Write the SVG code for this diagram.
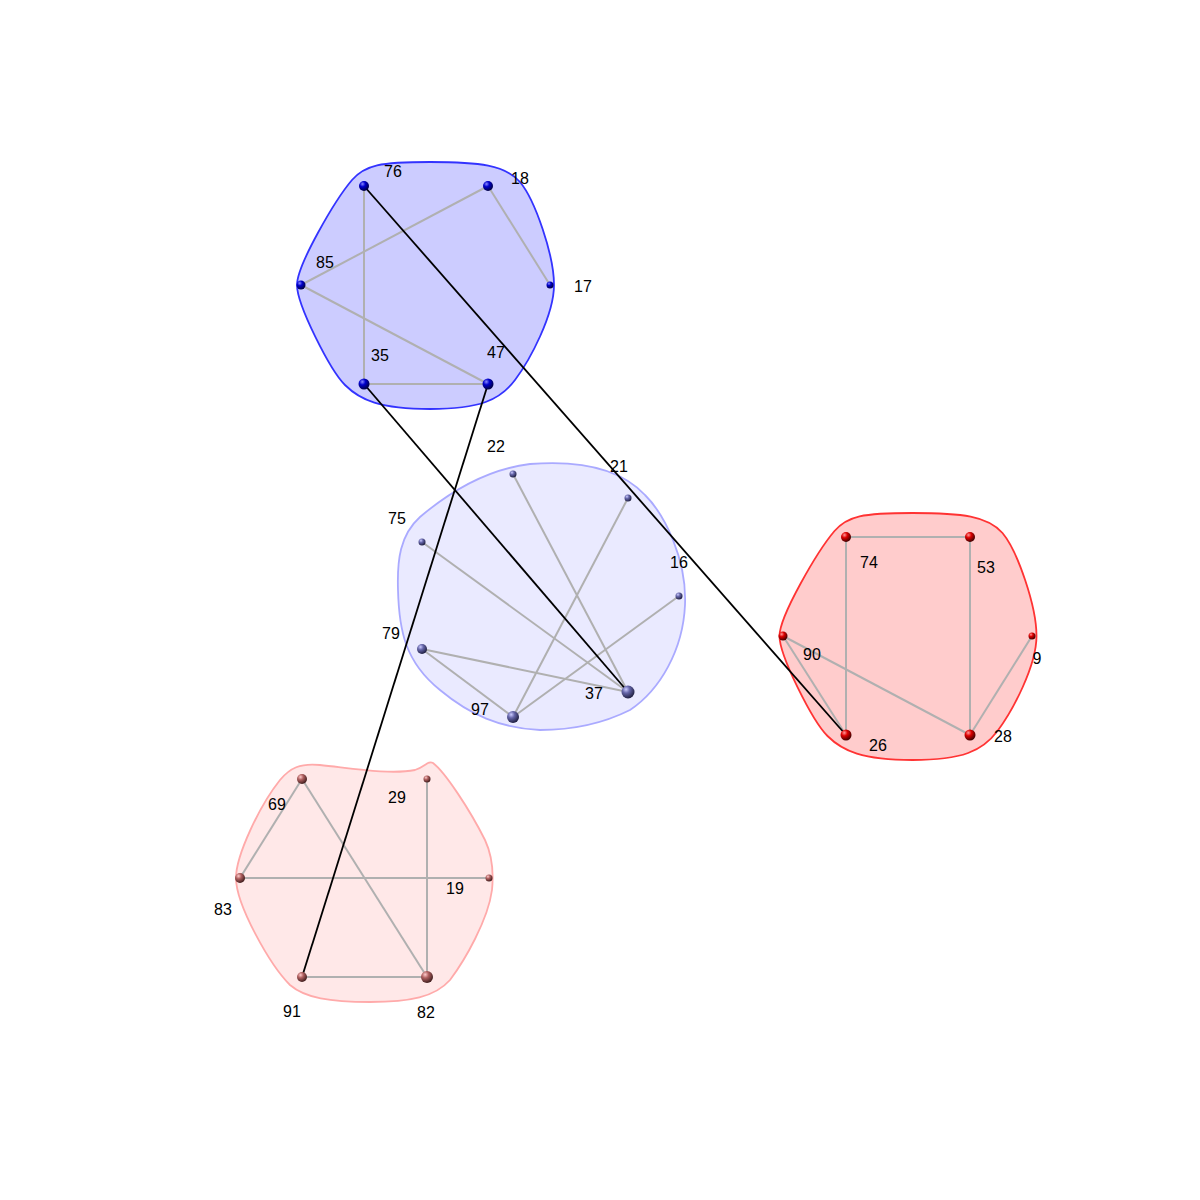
<svg xmlns="http://www.w3.org/2000/svg" width="1200" height="1200" viewBox="0 0 1200 1200">
<defs>
<radialGradient id="gB" cx="0.35" cy="0.3" r="0.7"><stop offset="0" stop-color="#8888ff"/><stop offset="0.4" stop-color="#0000cc"/><stop offset="1" stop-color="#000044"/></radialGradient>
<radialGradient id="gL" cx="0.35" cy="0.3" r="0.7"><stop offset="0" stop-color="#ccccff"/><stop offset="0.4" stop-color="#6666aa"/><stop offset="1" stop-color="#222244"/></radialGradient>
<radialGradient id="gR" cx="0.35" cy="0.3" r="0.7"><stop offset="0" stop-color="#ff9999"/><stop offset="0.4" stop-color="#dd0000"/><stop offset="1" stop-color="#440000"/></radialGradient>
<radialGradient id="gP" cx="0.35" cy="0.3" r="0.7"><stop offset="0" stop-color="#ffcccc"/><stop offset="0.4" stop-color="#b06060"/><stop offset="1" stop-color="#442020"/></radialGradient>
<path id="hex" d="M 297,285 C 297,265 335,200 352,180 C 365,165 380,162 430,162 C 480,162 505,165 520,182 C 535,200 554,255 554,285 C 554,315 530,360 515,380 C 500,400 480,409 430,409 C 380,409 360,400 345,385 C 330,370 297,305 297,285 Z"/>
</defs>
<style>
.g{stroke:#b0b0b0;stroke-width:2;fill:none}
.k{stroke:#000;stroke-width:1.8;fill:none}
text{font-family:"Liberation Sans",Arial,sans-serif;font-size:16px;fill:#000;text-anchor:middle}
.nb{fill:url(#gB)} .nl{fill:url(#gL)} .nr{fill:url(#gR)} .np{fill:url(#gP)}
</style>
<rect width="1200" height="1200" fill="#fff"/>
<g id="hulls">
<use href="#hex" fill="#ccccff" stroke="#3333ff" stroke-width="1.8"/>
<use href="#hex" transform="translate(482.5,351)" fill="#ffcccc" stroke="#ff3333" stroke-width="1.8"/>
<path d="M 398,590 C 397,560 400,535 420,517 C 440,500 480,470 530,464 C 580,460 620,468 645,495 C 665,515 687,560 685,605 C 683,650 660,690 630,710 C 600,725 570,730 540,730 C 500,728 470,715 440,690 C 405,662 399,630 398,590 Z" fill="#eaeaff" stroke="#aaaaff" stroke-width="1.8"/>
<path d="M 236,878 C 236,855 260,805 280,780 C 290,768 300,763 320,765 C 350,768 390,775 415,770 C 425,767 428,760 433,763 C 445,772 470,810 485,840 C 492,855 494,870 492,890 C 488,920 465,960 450,980 C 435,997 410,1002 370,1002 C 330,1002 305,998 290,985 C 270,965 236,905 236,878 Z" fill="#ffe8e8" stroke="#ffaaaa" stroke-width="1.8"/>
</g>
<g id="connectors">
<line class="g" x1="364" y1="186" x2="364" y2="384"/>
<line class="g" x1="301" y1="285" x2="488" y2="186"/>
<line class="g" x1="488" y1="186" x2="550" y2="285"/>
<line class="g" x1="301" y1="285" x2="488" y2="384"/>
<line class="g" x1="364" y1="384" x2="488" y2="384"/>
<line class="g" x1="513" y1="474" x2="628" y2="692"/>
<line class="g" x1="628" y1="498" x2="513" y2="717"/>
<line class="g" x1="422" y1="542" x2="628" y2="692"/>
<line class="g" x1="679" y1="596" x2="513" y2="717"/>
<line class="g" x1="422" y1="649" x2="628" y2="692"/>
<line class="g" x1="422" y1="649" x2="513" y2="717"/>
<line class="g" x1="846" y1="537" x2="970" y2="537"/>
<line class="g" x1="846" y1="537" x2="846" y2="735"/>
<line class="g" x1="970" y1="537" x2="970" y2="735"/>
<line class="g" x1="783" y1="636" x2="846" y2="735"/>
<line class="g" x1="783" y1="636" x2="970" y2="735"/>
<line class="g" x1="1032" y1="636" x2="970" y2="735"/>
<line class="g" x1="302" y1="779" x2="240" y2="878"/>
<line class="g" x1="302" y1="779" x2="427" y2="977"/>
<line class="g" x1="240" y1="878" x2="489" y2="878"/>
<line class="g" x1="427" y1="779" x2="427" y2="977"/>
<line class="g" x1="302" y1="977" x2="427" y2="977"/>
<line class="k" x1="364" y1="186" x2="846" y2="735"/>
<line class="k" x1="364" y1="384" x2="628" y2="692"/>
<line class="k" x1="488" y1="384" x2="302" y2="977"/>
</g>
<g id="n76"><circle class="nb" cx="364" cy="186" r="5"/><text x="393" y="177">76</text></g>
<g id="n18"><circle class="nb" cx="488" cy="186" r="5"/><text x="520" y="184">18</text></g>
<g id="n85"><circle class="nb" cx="301" cy="285" r="4.5"/><text x="325" y="268">85</text></g>
<g id="n17"><circle class="nb" cx="550" cy="285" r="3.5"/><text x="583" y="292">17</text></g>
<g id="n35"><circle class="nb" cx="364" cy="384" r="5.5"/><text x="380" y="361">35</text></g>
<g id="n47"><circle class="nb" cx="488" cy="384" r="5.5"/><text x="496" y="358">47</text></g>
<g id="n22"><circle class="nl" cx="513" cy="474" r="3.5"/><text x="496" y="452">22</text></g>
<g id="n21"><circle class="nl" cx="628" cy="498" r="3.5"/><text x="619" y="472">21</text></g>
<g id="n75"><circle class="nl" cx="422" cy="542" r="3.5"/><text x="397" y="524">75</text></g>
<g id="n16"><circle class="nl" cx="679" cy="596" r="3.5"/><text x="679" y="568">16</text></g>
<g id="n79"><circle class="nl" cx="422" cy="649" r="5"/><text x="391" y="639">79</text></g>
<g id="n97"><circle class="nl" cx="513" cy="717" r="6"/><text x="480" y="715">97</text></g>
<g id="n37"><circle class="nl" cx="628" cy="692" r="6.5"/><text x="594" y="699">37</text></g>
<g id="n74"><circle class="nr" cx="846" cy="537" r="5"/><text x="869" y="568">74</text></g>
<g id="n53"><circle class="nr" cx="970" cy="537" r="5"/><text x="986" y="573">53</text></g>
<g id="n90"><circle class="nr" cx="783" cy="636" r="4.5"/><text x="812" y="660">90</text></g>
<g id="n9"><circle class="nr" cx="1032" cy="636" r="3.5"/><text x="1037" y="664">9</text></g>
<g id="n26"><circle class="nr" cx="846" cy="735" r="5.5"/><text x="878" y="751">26</text></g>
<g id="n28"><circle class="nr" cx="970" cy="735" r="5.5"/><text x="1003" y="742">28</text></g>
<g id="n69"><circle class="np" cx="302" cy="779" r="5"/><text x="277" y="810">69</text></g>
<g id="n29"><circle class="np" cx="427" cy="779" r="3.5"/><text x="397" y="803">29</text></g>
<g id="n83"><circle class="np" cx="240" cy="878" r="5"/><text x="223" y="915">83</text></g>
<g id="n19"><circle class="np" cx="489" cy="878" r="3.5"/><text x="455" y="894">19</text></g>
<g id="n91"><circle class="np" cx="302" cy="977" r="5"/><text x="292" y="1017">91</text></g>
<g id="n82"><circle class="np" cx="427" cy="977" r="6"/><text x="426" y="1018">82</text></g>
</svg>
